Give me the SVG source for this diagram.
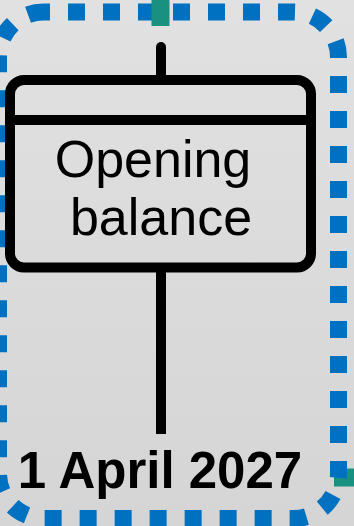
<svg xmlns="http://www.w3.org/2000/svg" width="354" height="526" viewBox="0 0 354 526">
  <defs>
    <linearGradient id="bg" x1="0" y1="0" x2="0" y2="1">
      <stop offset="0" stop-color="#e1e1e1"/>
      <stop offset="1" stop-color="#d5d5d5"/>
    </linearGradient>
    <style>
      .line { stroke: #000; stroke-width: 10; fill: none; }
      .teal { stroke: #1a9080; stroke-width: 18; fill: none; }
      .label { font-family: "Liberation Sans", Arial, sans-serif; fill: #000; text-anchor: middle; }
    </style>
  </defs>
  <rect x="0" y="0" width="354" height="526" fill="url(#bg)"/>
  <g id="connectors">
    <line class="teal" x1="334" y1="477.5" x2="354" y2="477.5"/>
  </g>
  <g id="frame">
    <rect x="-1.5" y="12" width="340" height="506.5" rx="45" ry="45" fill="none" stroke="#0070c0" stroke-width="17" stroke-dasharray="17 18" stroke-dashoffset="10.5"/>
  </g>
  <g id="connectors-top">
    <line class="teal" x1="160.5" y1="0" x2="160.5" y2="26"/>
    <line class="line" x1="161" y1="47" x2="161" y2="80" stroke-linecap="round"/>
    <line class="line" x1="161" y1="267" x2="161" y2="434"/>
  </g>
  <g id="node-opening-balance">
    <rect class="line" x="10" y="80" width="301" height="187.5" rx="14" ry="14" fill="none"/>
    <line class="line" x1="10" y1="120" x2="311" y2="120"/>
    <text class="label" font-size="52" x="153" y="177">Opening</text>
    <text class="label" font-size="52" x="161" y="235">balance</text>
  </g>
  <g id="date-label">
    <text class="label" font-size="51" font-weight="bold" x="160" y="488">1 April 2027</text>
  </g>
</svg>
